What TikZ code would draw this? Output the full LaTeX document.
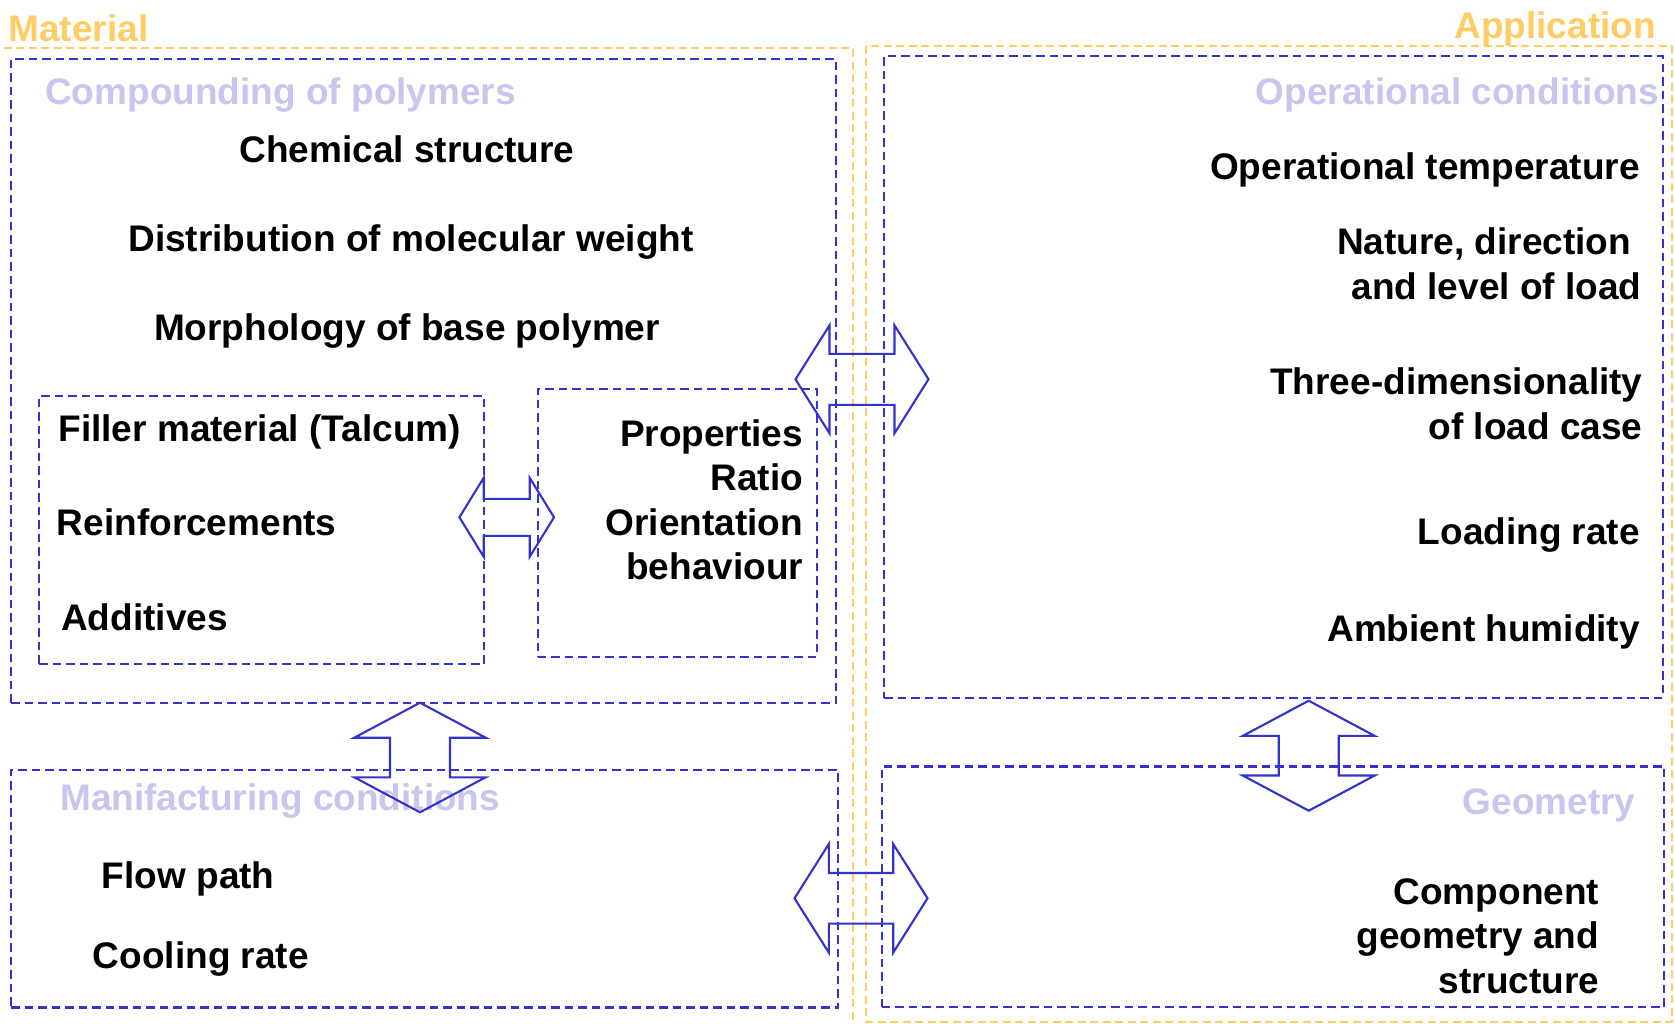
\documentclass[tikz,border=0pt]{standalone}
\usepackage{fontspec}
\setmainfont{Liberation Sans}
\usetikzlibrary{calc}

\definecolor{frameorange}{RGB}{255,204,102}
\definecolor{frameblue}{RGB}{51,51,204}
\definecolor{headlilac}{RGB}{198,198,238}

\tikzset{
  orangeframe/.style={draw=frameorange, line width=2.1pt, dash pattern=on 8pt off 4.5pt},
  bluebox/.style={draw=frameblue, line width=2.1pt, dash pattern=on 8.5pt off 5pt,
                  inner sep=0pt, outer sep=0pt, anchor=north west},
  blockarrow/.style={draw=frameblue, line width=2.1pt, line join=miter},
  labelfont/.style={font=\fontsize{37}{44.5}\selectfont\bfseries, inner sep=0pt, yshift=-1.5pt},
  grouptitle/.style={labelfont, text=frameorange},
  boxtitle/.style={labelfont, text=headlilac},
  item/.style={labelfont, text=black},
  % hollow double-headed block arrow: half length / head length / head half width / shaft half width
  pics/dblarrow/.style args={#1/#2/#3/#4}{code={%
    \draw[blockarrow] (-#1,0) -- ({-#1+#2},#3) -- ({-#1+#2},#4) -- ({#1-#2},#4)
      -- ({#1-#2},#3) -- (#1,0) -- ({#1-#2},-#3) -- ({#1-#2},-#4)
      -- ({-#1+#2},-#4) -- ({-#1+#2},-#3) -- cycle;
  }},
}

\begin{document}
\begin{tikzpicture}[x=1pt, y=-1pt]
\useasboundingbox (0,0) rectangle (1675,1023);

% material and application groups
\draw[orangeframe] (3.8,48.3) -- (852.7,48.3) -- (852.7,1023);
\draw[orangeframe] (866,45.7) rectangle (1671.7,1021.7);
\node[grouptitle, anchor=base west] (material) at (8.4,40) {Material};
\node[grouptitle, anchor=base east] (application) at (1656,37) {Application};

% dashed boxes
\node[bluebox, minimum width=825, minimum height=644.3] (compound) at (11,59) {};
\node[bluebox, minimum width=444.7, minimum height=268.6] (filler) at (39.3,395.7) {};
\node[bluebox, minimum width=279, minimum height=268] (props) at (537.7,388.7) {};
\node[bluebox, minimum width=827.3, minimum height=237.5] (manufact) at (11,770) {};
\node[bluebox, minimum width=778.7, minimum height=641.7] (operation) at (884,56) {};
\node[bluebox, minimum width=782.6, minimum height=240.8] (geometry) at (881.7,766.5) {};

% compounding of polymers
\node[boxtitle, anchor=base west] (compoundtitle) at (45,103) {Compounding of polymers};
\node[item, anchor=base] (chem) at (407,161) {Chemical structure};
\node[item, anchor=base] (distr) at (411,250) {Distribution of molecular weight};
\node[item, anchor=base] (morph) at (407,339.3) {Morphology of base polymer};
\node[item, anchor=base west] (fillmat) at (58.3,440) {Filler material (Talcum)};
\node[item, anchor=base west] (reinf) at (56.7,534.3) {Reinforcements};
\node[item, anchor=base west] (addit) at (61,629.3) {Additives};
% multi-line labels are anchored at the baseline of their last line
\node[item, anchor=base east, align=right] (proptext) at (803.3,578.3)
  {Properties\\Ratio\\Orientation\\behaviour};

% manufacturing conditions
\node[boxtitle, anchor=base west] (manutitle) at (60,809) {Manifacturing conditions};
\node[item, anchor=base west] (flow) at (101.7,887.3) {Flow path};
\node[item, anchor=base west] (cool) at (92.7,966.7) {Cooling rate};

% operational conditions
\node[boxtitle, anchor=base east] (opertitle) at (1659,103) {Operational conditions};
\node[item, anchor=base east] (optemp) at (1640,177.7) {Operational temperature};
\node[item, anchor=base east, align=right] (loadkind) at (1641.7,297.7)
  {Nature, direction\kern10.3pt\\and level of load};
\node[item, anchor=base east, align=right] (threed) at (1642.7,437.7)
  {Three-dimensionality\\of load case};
\node[item, anchor=base east] (rate) at (1640,542.9) {Loading rate};
\node[item, anchor=base east] (humid) at (1640,640.4) {Ambient humidity};

% geometry
\node[boxtitle, anchor=base east] (geomtitle) at (1635.7,812.5) {Geometry};
\node[item, anchor=base east, align=right] (compgeom) at (1599.3,991.5)
  {Component\\geometry and\\structure};

% interaction arrows
\coordinate (linkA) at (862,379.3);
\coordinate (linkB) at (861,898.3);
\coordinate (linkC) at (506.7,517.3);
\coordinate (linkD) at (420,757.5);
\coordinate (linkE) at (1308.7,755.7);
\pic at (linkA) {dblarrow={66.5/34/54/25.5}};
\pic at (linkB) {dblarrow={66.5/34.3/54.3/25.3}};
\pic at (linkC) {dblarrow={47.3/24.3/39.5/18.5}};
\pic[rotate=90] at (linkD) {dblarrow={54.8/35/65.7/30}};
\pic[rotate=90] at (linkE) {dblarrow={55/35.2/66/30}};
\end{tikzpicture}
\end{document}
